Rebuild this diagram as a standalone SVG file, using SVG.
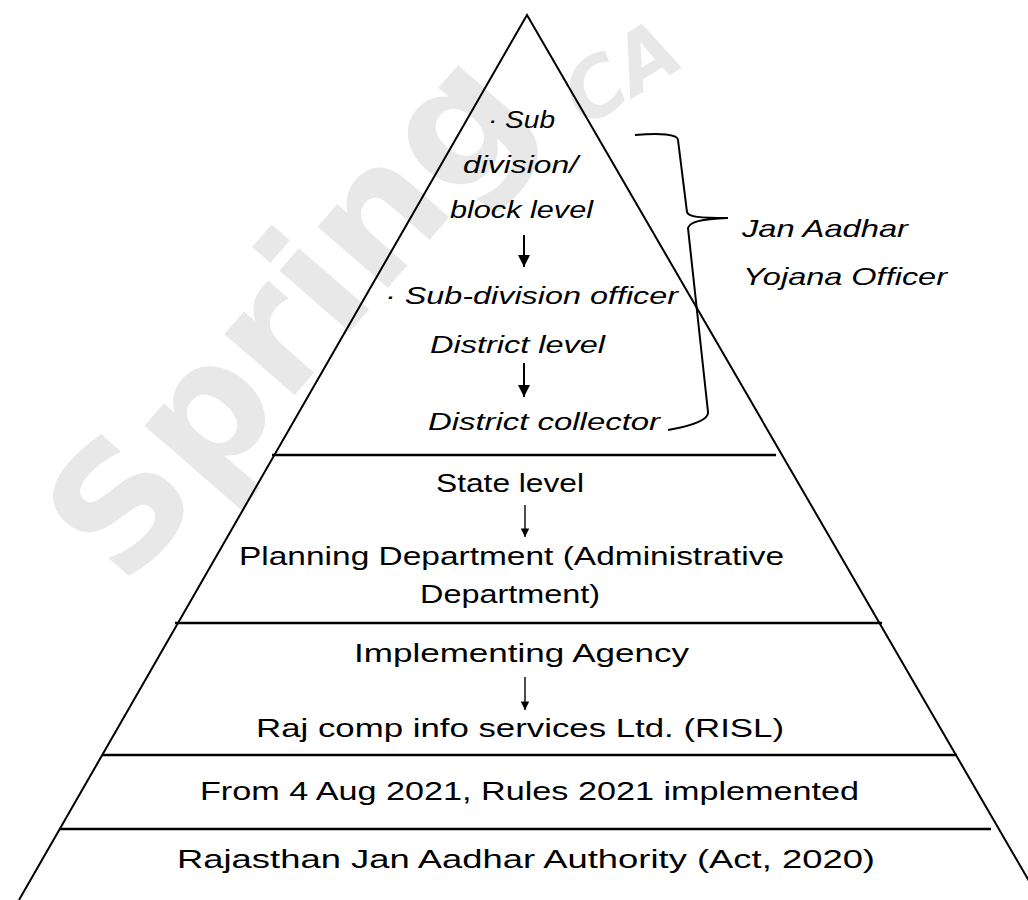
<svg xmlns="http://www.w3.org/2000/svg" width="1028" height="900" viewBox="0 0 1028 900">
<style>
.wm{font-family:"DejaVu Sans",sans-serif;font-weight:bold;fill:#e8e8e8}
.edge{stroke:#000;stroke-width:2;fill:none}
.band{stroke:#000;stroke-width:2.6;fill:none}
.t{font-family:"Liberation Sans",Arial,sans-serif;font-style:italic;font-size:24px;fill:#000}
.l{font-family:"Liberation Sans",Arial,sans-serif;font-size:26px;fill:#000}
.arr{stroke:#000;stroke-width:2;fill:none}
.arrT{stroke:#000;stroke-width:1.4;fill:none}
</style>
<defs>
<marker id="ah" viewBox="0 0 10 10" refX="10" refY="5" markerWidth="6" markerHeight="6" markerUnits="strokeWidth" orient="auto">
<path d="M0,0 L10,5 L0,10 Z" fill="#000"/>
</marker>
<marker id="ahT" viewBox="0 0 10 10" refX="10" refY="5" markerWidth="8" markerHeight="6" markerUnits="strokeWidth" orient="auto">
<path d="M0,0 L10,5 L0,10 Z" fill="#000"/>
</marker>
</defs>
<rect width="1028" height="900" fill="#fff"/>
<g id="watermark">
<text class="wm" font-size="170" transform="translate(125,590) rotate(-49)">Spring</text>
<text class="wm" font-size="80" font-style="italic" font-weight="normal" transform="translate(585,128) rotate(-32)">CA</text>
</g>
<g id="pyramid">
<path class="edge" d="M19,900 L527,15 L1040,900"/>
<line class="band" x1="272" y1="455" x2="776" y2="455"/>
<line class="band" x1="175" y1="623" x2="882" y2="623"/>
<line class="band" x1="102" y1="755" x2="957" y2="755"/>
<line class="band" x1="60" y1="829" x2="991" y2="829"/>
</g>
<g id="connectors">
<line class="arr" x1="524" y1="235" x2="524" y2="267" marker-end="url(#ah)"/>
<line class="arr" x1="524" y1="363" x2="524" y2="397" marker-end="url(#ah)"/>
<line class="arrT" x1="525" y1="505" x2="525" y2="537" marker-end="url(#ahT)"/>
<line class="arrT" x1="525" y1="677" x2="525" y2="710" marker-end="url(#ahT)"/>
<path id="brace" class="arr" d="M635,135 C660,133 678,134 678,140 L687,212 C688,217 700,218 728,218 C700,219 690,222 688,228 L708,412 C709,420 690,426 668,430"/>
</g>
<g id="n-top">
<text class="t" x="488" y="128" textLength="67" lengthAdjust="spacingAndGlyphs">· Sub</text>
<text class="t" x="463" y="173" textLength="115" lengthAdjust="spacingAndGlyphs">division/</text>
<text class="t" x="450" y="218" textLength="143" lengthAdjust="spacingAndGlyphs">block level</text>
</g>
<g id="n-subdiv">
<text class="t" x="385" y="304" textLength="293" lengthAdjust="spacingAndGlyphs">· Sub-division officer</text>
</g>
<g id="n-district">
<text class="t" x="430" y="353" textLength="175" lengthAdjust="spacingAndGlyphs">District level</text>
</g>
<g id="n-collector">
<text class="t" x="428" y="430" textLength="232" lengthAdjust="spacingAndGlyphs">District collector</text>
</g>
<g id="n-officer">
<text class="t" x="742" y="237" textLength="166" lengthAdjust="spacingAndGlyphs">Jan Aadhar</text>
<text class="t" x="743" y="285" textLength="204" lengthAdjust="spacingAndGlyphs">Yojana Officer</text>
</g>
<g id="n-state">
<text class="l" x="436" y="492" textLength="148" lengthAdjust="spacingAndGlyphs">State level</text>
</g>
<g id="n-planning">
<text class="l" x="239" y="565" textLength="545" lengthAdjust="spacingAndGlyphs">Planning Department (Administrative</text>
<text class="l" x="420" y="603" textLength="180" lengthAdjust="spacingAndGlyphs">Department)</text>
</g>
<g id="n-agency">
<text class="l" x="354" y="662" textLength="335" lengthAdjust="spacingAndGlyphs">Implementing Agency</text>
</g>
<g id="n-risl">
<text class="l" x="256" y="737" textLength="528" lengthAdjust="spacingAndGlyphs">Raj comp info services Ltd. (RISL)</text>
</g>
<g id="n-rules">
<text class="l" x="200" y="800" textLength="659" lengthAdjust="spacingAndGlyphs">From 4 Aug 2021, Rules 2021 implemented</text>
</g>
<g id="n-act">
<text class="l" x="177" y="868" textLength="698" lengthAdjust="spacingAndGlyphs">Rajasthan Jan Aadhar Authority (Act, 2020)</text>
</g>
</svg>
